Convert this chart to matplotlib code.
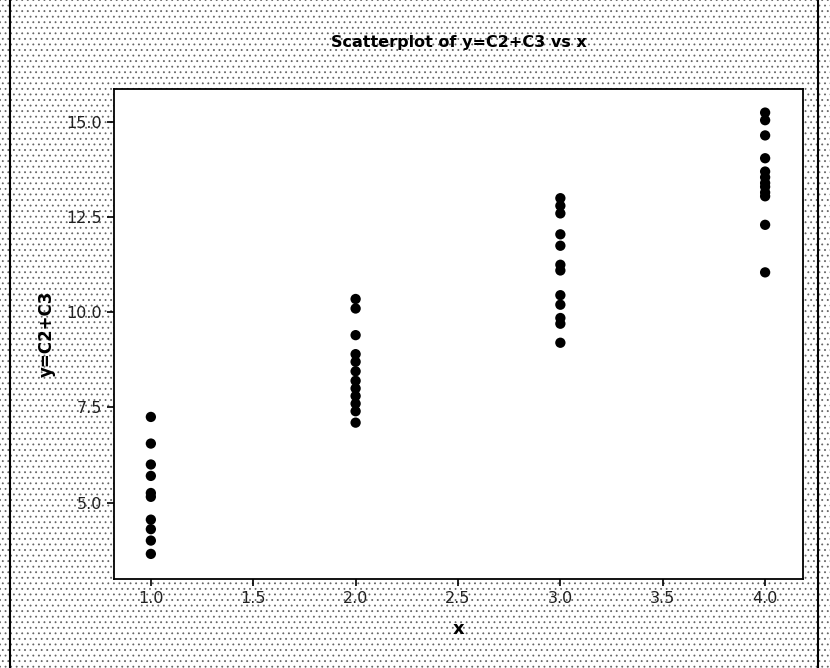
import numpy as np
import matplotlib
matplotlib.use("Agg")
import matplotlib.pyplot as plt
from matplotlib.patches import Rectangle

# values, grouped by x level
x_levels = [1.0, 2.0, 3.0, 4.0]
y_x1 = [7.25, 6.55, 6.0, 5.7, 5.25, 5.15, 4.55, 4.3, 4.0, 3.65]
y_x2 = [10.35, 10.1, 9.4, 8.9, 8.7, 8.45, 8.2, 8.0, 7.8, 7.6, 7.4, 7.1]
y_x3 = [13.0, 12.8, 12.6, 12.05, 11.75, 11.25, 11.1, 10.45, 10.2, 9.85, 9.7, 9.2]
y_x4 = [15.25, 15.05, 14.65, 14.05, 13.7, 13.55, 13.4, 13.3, 13.15, 13.05, 12.3, 11.05]

x_ticks = [1.0, 1.5, 2.0, 2.5, 3.0, 3.5, 4.0]
y_ticks = [5.0, 7.5, 10.0, 12.5, 15.0]


def main():
    plt.rcParams["hatch.linewidth"] = 0.6
    plt.rcParams["hatch.color"] = "#666666"

    fig = plt.figure(figsize=(8.3, 6.68), dpi=100)
    fig.patch.set_facecolor("white")

    # dotted background texture + frame
    bg = Rectangle((0, 0), 1, 1, transform=fig.transFigure, facecolor="white",
                   edgecolor="#666666", hatch="...", lw=0, zorder=-2)
    fig.patches.append(bg)
    frame = Rectangle((10 / 830, -0.01), 808 / 830, 1.02, transform=fig.transFigure,
                      facecolor="none", edgecolor="black", lw=1.5, zorder=-1)
    fig.patches.append(frame)

    ax = fig.add_axes([114 / 830, 1 - 579 / 668, 689 / 830, 490 / 668])
    ax.set_facecolor("white")

    groups = [y_x1, y_x2, y_x3, y_x4]
    for xv, ys in zip(x_levels, groups):
        ax.scatter(np.full(len(ys), xv), ys, s=55, color="black",
                   edgecolors="none", zorder=3)

    ax.set_xlim(0.82, 4.185)
    ax.set_ylim(2.99, 15.87)
    ax.set_xticks(x_ticks)
    ax.set_yticks(y_ticks)
    ax.set_xticklabels([f"{t:.1f}" for t in x_ticks])
    ax.set_yticklabels([f"{t:.1f}" for t in y_ticks])
    ax.tick_params(direction="out", length=5, width=1.2, labelsize=11.5,
                   colors="black", labelcolor="#222222")
    for sp in ax.spines.values():
        sp.set_linewidth(1.3)

    fig.text(0.5 * (114 + 803) / 830, 1 - 42 / 668, "Scatterplot of y=C2+C3 vs x",
             ha="center", va="center", fontsize=11.5, fontweight="bold")
    ax.set_xlabel("x", fontsize=13, fontweight="bold", labelpad=10)
    ax.set_ylabel("y=C2+C3", fontsize=12, fontweight="bold", labelpad=8)

    fig.savefig("out.png", dpi=100)


if __name__ == "__main__":
    main()
